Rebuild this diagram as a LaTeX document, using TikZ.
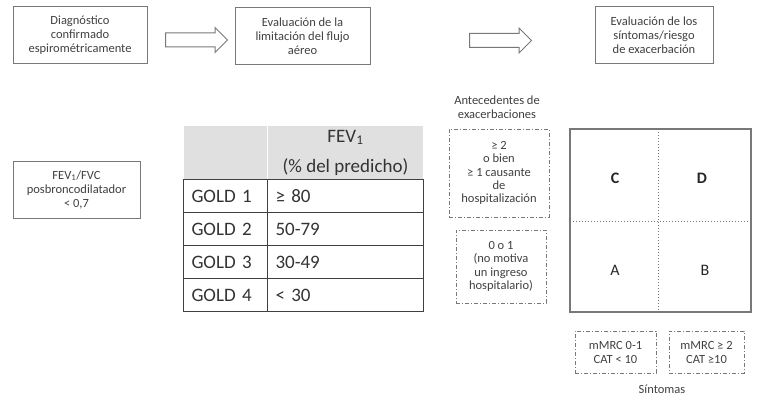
\documentclass[tikz,border=0pt]{standalone}
\usepackage{fontspec}
\setmainfont{Carlito}
\usetikzlibrary{shapes.arrows}

\definecolor{txtgray}{RGB}{64,64,64}
\definecolor{linegray}{RGB}{120,120,120}
\definecolor{headgray}{RGB}{224,224,224}

\tikzset{
  stepbox/.style={draw=linegray, line width=1pt, align=center, text=txtgray,
    inner sep=0pt, font=\fontsize{12.5}{14}\selectfont},
  dashbox/.style={stepbox, line width=0.9pt,
    dash pattern=on 4pt off 2pt on 1pt off 2pt},
  plaintext/.style={align=center, text=txtgray, font=\fontsize{12.5}{14}\selectfont},
  flowarrow/.style={single arrow, draw=linegray, line width=1pt, minimum height=62pt,
    minimum width=24pt, single arrow head extend=5.5pt, inner sep=6.5pt},
  goldcell/.style={draw=txtgray, line width=1pt, align=left, inner ysep=0pt,
    inner xsep=8pt, minimum height=33pt, text=black!80,
    font=\fontsize{19}{24}\selectfont},
  quad/.style={text=black!85, font=\fontsize{16}{18}\selectfont}
}

\begin{document}
\begin{tikzpicture}[x=1pt,y=-1pt]
  \useasboundingbox (0,0) rectangle (758,396);

  % top row
  \node[stepbox, minimum width=134pt, minimum height=57pt] (diag) at (80,35.5)
    {Diagnóstico\\confirmado\\espirométricamente};
  \node[stepbox, minimum width=135pt, minimum height=57pt] (limit) at (302.5,36)
    {Evaluación de la\\limitación del flujo\\aéreo};
  \node[stepbox, minimum width=118pt, minimum height=57pt] (sint) at (654,35.5)
    {Evaluación de los\\síntomas/riesgo\\de exacerbación};
  \node[flowarrow] (arr1) at (193,40) {};
  \node[flowarrow] (arr2) at (497,40.5) {};

  \node[stepbox, minimum width=127pt, minimum height=57pt] (fev) at (76.5,189.5)
    {FEV\textsubscript{1}/FVC\\posbroncodilatador\\< 0,7};

  % tabla GOLD
  \node[fill=headgray, draw=white, line width=1pt, minimum width=84pt,
    minimum height=54pt, anchor=north west] (h1) at (183,125) {};
  \node[fill=headgray, draw=white, line width=1pt, minimum width=156pt,
    minimum height=54pt, anchor=north west, align=center, text=black!80,
    font=\fontsize{19}{30}\selectfont] (h2) at (267,125)
    {FEV\textsubscript{1}\\(\% del predicho)};
  \foreach \g/\v [count=\i] in {1/≥ 80, 2/50-79, 3/30-49, 4/< 30}{
    \node[goldcell, text width=68pt, anchor=north west] (g\i) at (183,146+33*\i) {GOLD \g};
    \node[goldcell, text width=140pt, anchor=north west] (v\i) at (267,146+33*\i) {\v};
  }

  % exacerbaciones
  \node[plaintext] (ante) at (497,107) {Antecedentes de\\exacerbaciones};
  \node[dashbox, minimum width=100pt, minimum height=88pt,
    font=\fontsize{12.5}{13.4}\selectfont] (alto) at (499,173)
    {≥ 2\\o bien\\≥ 1 causante\\de\\hospitalización};
  \node[dashbox, minimum width=90pt, minimum height=73pt,
    font=\fontsize{12.5}{13.4}\selectfont] (bajo) at (501,266.5)
    {0 o 1\\(no motiva\\un ingreso\\hospitalario)};

  % cuadrantes
  \draw[linegray, line width=1.5pt] (570,129) rectangle (751,312);
  \draw[linegray, line width=1pt, dotted] (658,129) -- (658,312);
  \draw[linegray, line width=1pt, dotted] (570,221) -- (751,221);
  \node[quad, font=\fontsize{16}{18}\bfseries] (qc) at (615,178) {C};
  \node[quad, font=\fontsize{16}{18}\bfseries] (qd) at (702,178) {D};
  \node[quad] (qa) at (615,270) {A};
  \node[quad] (qb) at (705,270) {B};

  % síntomas
  \node[dashbox, minimum width=81pt, minimum height=42pt] (mmrc1) at (615.5,352)
    {mMRC 0-1\\CAT < 10};
  \node[dashbox, minimum width=75pt, minimum height=42pt] (mmrc2) at (706.5,352)
    {mMRC ≥ 2\\CAT ≥10};
  \node[plaintext] (sintomas) at (662,389) {Síntomas};
\end{tikzpicture}
\end{document}
